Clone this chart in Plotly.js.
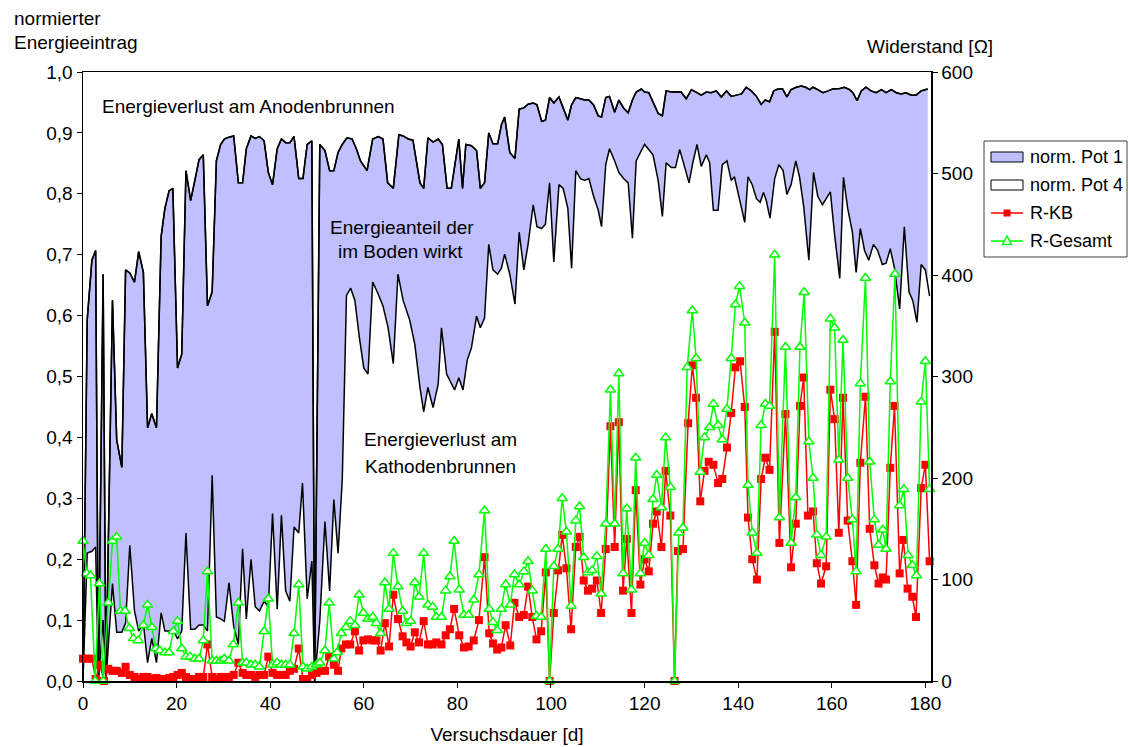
<!DOCTYPE html>
<html>
<head>
<meta charset="utf-8">
<script src="https://cdn.plot.ly/plotly-3.0.1.min.js"></script>
<style>html,body{margin:0;padding:0;background:#fff;}#chart{width:1128px;height:747px;}</style>
</head>
<body>
<div id="chart"></div>
<script>
// ---- Data ----
const pot1Days = [0,0.9,1.9,2.7,3.3,4.3,4.9,6.3,7.2,8.3,9.1,10.0,11.0,11.9,12.9,13.8,14.7,15.7,16.7,17.5,18.4,19.2,20.2,21.1,22.0,23.0,23.9,24.8,25.7,26.6,27.6,28.5,29.4,30.2,31.2,32.2,33.2,34.1,34.9,35.9,36.8,37.7,38.7,39.6,40.5,41.5,42.4,43.3,44.2,45.1,46.1,47.0,47.9,48.9,49.5,50.6,51.7,52.7,53.6,54.5,55.4,56.4,57.5,58.4,59.3,60.7,61.9,63.1,64.1,65.1,66.3,67.5,68.4,69.5,70.5,72.0,72.8,73.7,74.8,75.9,76.8,77.8,78.7,79.5,80.3,81.1,81.8,83.0,84.1,84.9,85.8,86.7,87.6,88.6,89.4,90.1,91.2,92.3,93.2,94.2,95.1,96.2,97.0,98.0,98.8,99.7,100.6,101.7,102.7,103.6,104.4,105.3,106.3,107.2,108.1,109.1,110.1,110.8,111.7,112.5,113.6,114.5,115.5,116.5,117.4,118.2,119.3,120.0,120.9,121.9,122.9,123.8,124.6,125.7,126.8,127.8,128.9,130.0,131.0,132.1,133.2,134.2,135.3,136.4,137.5,138.5,139.6,140.7,141.7,142.8,143.9,144.9,145.8,146.7,147.6,148.5,149.5,150.4,151.3,152.4,153.5,154.4,155.3,156.0,157.0,158.1,159.2,160.2,161.7,162.7,163.8,164.5,165.4,166.3,167.3,168.4,169.5,170.6,171.6,172.7,173.8,174.8,175.9,177.0,178.0,179.1,180.5];
const pot1Vals = [0,0.593,0.691,0.707,0,0.668,0,0.625,0.396,0.351,0.675,0.670,0.655,0.705,0.671,0.416,0.439,0.416,0.730,0.776,0.805,0.809,0.514,0.537,0.838,0.789,0.822,0.856,0.864,0.616,0.639,0.854,0.881,0.890,0.893,0.895,0.818,0.818,0.874,0.895,0.891,0.894,0.887,0.835,0.815,0.874,0.890,0.884,0.884,0.894,0.825,0.825,0.881,0.887,0,0.881,0.871,0.838,0.838,0.868,0.881,0.892,0.890,0.874,0.854,0.838,0.890,0.894,0.890,0.818,0.809,0.897,0.895,0.890,0.888,0.818,0.809,0.892,0.885,0.890,0.881,0.809,0.809,0.850,0.890,0.809,0.881,0.879,0.871,0.809,0.818,0.900,0.882,0.882,0.913,0.926,0.868,0.858,0.939,0.941,0.947,0.949,0.946,0.919,0.921,0.958,0.949,0.959,0.939,0.921,0.946,0.958,0.956,0.954,0.954,0.946,0.928,0.926,0.958,0.960,0.934,0.954,0.941,0.933,0.954,0.967,0.972,0.967,0.966,0.949,0.932,0.928,0.969,0.967,0.967,0.967,0.956,0.971,0.967,0.962,0.967,0.966,0.969,0.959,0.969,0.960,0.962,0.964,0.975,0.969,0.960,0.947,0.954,0.951,0.969,0.972,0.972,0.959,0.971,0.975,0.977,0.975,0.971,0.975,0.971,0.966,0.969,0.972,0.973,0.975,0.971,0.966,0.953,0.969,0.975,0.969,0.966,0.971,0.966,0.971,0.966,0.964,0.966,0.962,0.962,0.969,0.972];

const pot4Days = [0,0.9,1.9,2.7,3.3,4.3,4.9,6.3,7.2,8.3,9.1,10.0,11.0,11.9,12.9,13.8,14.7,15.7,16.7,17.5,18.4,19.2,20.2,21.1,22.0,23.0,23.9,24.8,25.7,26.6,27.6,28.5,29.4,30.2,31.2,32.2,33.2,34.1,34.9,35.9,36.8,37.7,38.7,39.6,40.5,41.5,42.4,43.3,44.2,45.1,46.1,46.9,47.9,48.9,49.5,50.6,51.7,52.7,53.6,54.5,55.4,56.3,57.2,58.1,59.0,60.0,60.9,61.9,63.1,64.1,65.2,66.3,67.3,68.4,69.8,70.9,72.0,72.8,73.7,74.8,75.9,76.6,77.7,78.7,79.4,80.3,81.2,82.1,83.0,84.1,84.9,85.8,86.7,87.6,88.6,89.4,90.1,91.2,92.3,93.2,94.2,95.1,96.2,97.0,98.0,98.8,99.7,100.6,101.7,102.6,103.6,104.4,105.3,106.3,107.2,108.1,109.1,110.1,110.8,111.7,112.5,113.6,114.5,115.5,116.5,117.4,118.2,119.3,120.0,121.8,122.9,123.8,124.6,125.7,126.6,127.5,128.6,129.5,130.3,131.2,132.1,133.2,133.9,134.7,135.7,136.6,137.6,138.5,139.2,140.2,141.4,142.1,143.0,143.9,144.7,145.4,146.0,146.8,147.8,148.7,149.6,150.4,151.3,152.3,153.1,154.0,155.1,156.1,157.0,158.0,158.8,159.7,160.6,161.7,162.5,163.4,164.4,165.2,166.1,167.0,167.9,168.9,169.8,170.8,171.6,172.5,173.4,174.5,175.5,176.5,177.3,178.2,179.1,180.0,180.9];
const pot4Vals = [0,0.210,0.213,0.220,0,0.100,0,0.160,0.080,0.080,0.095,0.223,0.115,0.082,0.095,0.030,0.070,0.030,0.112,0.082,0.082,0.085,0.069,0.082,0.243,0.085,0.085,0.092,0.092,0.082,0.338,0.105,0.102,0.098,0.161,0.090,0.060,0.217,0.102,0.200,0.122,0.115,0.131,0.122,0.275,0.118,0.272,0.148,0.131,0.253,0.243,0.325,0.135,0.197,0,0.099,0.262,0.148,0.298,0.210,0.331,0.633,0.645,0.625,0.567,0.514,0.504,0.655,0.635,0.616,0.580,0.521,0.668,0.625,0.593,0.553,0.482,0.442,0.482,0.449,0.488,0.580,0.504,0.488,0.478,0.498,0.478,0.527,0.547,0.599,0.580,0.596,0.717,0.675,0.668,0.678,0.701,0.668,0.619,0.737,0.675,0.717,0.782,0.746,0.743,0.750,0.818,0.688,0.815,0.809,0.776,0.678,0.838,0.825,0.822,0.825,0.796,0.773,0.746,0.848,0.874,0.854,0.835,0.825,0.818,0.727,0.854,0.871,0.881,0.864,0.822,0.763,0.851,0.843,0.843,0.873,0.845,0.818,0.851,0.881,0.845,0.864,0.851,0.773,0.773,0.848,0.854,0.822,0.828,0.796,0.753,0.828,0.815,0.792,0.786,0.802,0.789,0.760,0.825,0.848,0.838,0.799,0.815,0.854,0.828,0.779,0.691,0.835,0.796,0.782,0.792,0.803,0.733,0.661,0.827,0.776,0.737,0.671,0.743,0.707,0.691,0.717,0.707,0.684,0.686,0.710,0.678,0.611,0.746,0.639,0.625,0.589,0.684,0.675,0.632];

const rkbDays = [0,0.9,1.9,2.7,3.6,4.5,5.4,6.3,7.2,8.3,9.1,10.0,11.0,11.9,12.9,13.8,14.7,15.7,16.7,17.5,18.4,19.3,20.2,21.1,22.0,23.0,23.9,24.8,25.7,26.6,27.6,28.5,29.4,30.3,31.2,32.2,33.2,34.1,34.9,35.9,36.8,37.7,38.7,39.6,40.5,41.5,42.4,43.3,44.2,45.1,46.1,47.0,47.9,48.9,49.9,50.6,51.7,52.6,53.6,54.5,55.2,56.2,57.1,58.1,59.0,59.9,60.9,61.9,62.7,63.6,64.5,65.4,66.3,67.3,68.3,69.1,70.0,70.9,71.8,72.8,73.7,74.7,75.5,76.6,77.5,78.4,79.3,80.4,81.4,82.4,83.5,84.6,85.8,86.8,87.6,88.5,89.4,90.3,91.3,92.2,93.2,94.2,95.1,96.0,96.9,97.9,98.9,99.7,100.6,101.5,102.4,103.3,104.3,105.3,106.1,107.0,107.9,108.8,109.8,110.7,111.7,112.7,113.6,114.5,115.4,116.2,117.2,118.1,119.1,120.0,120.9,121.8,122.6,123.6,124.5,125.5,126.4,127.1,128.2,129.3,130.2,131.0,131.9,132.8,133.7,134.7,135.7,136.6,137.6,138.5,139.4,140.4,141.4,142.1,143.0,144.0,144.9,145.8,146.7,147.8,148.8,150.1,151.3,152.3,153.2,154.0,154.9,156.0,156.8,157.7,158.8,159.7,160.6,161.5,162.4,163.4,164.4,165.2,166.1,167.2,168.1,169.1,170.0,170.9,171.6,172.5,173.4,174.5,175.3,176.2,177.2,178.0,179.1,180.0,180.9];
const rkbVals = [22,22,22,2,16,0,12,10,10,8,14,6,4,2,4,4,2,3,2,2,3,4,6,8,4,2,2,4,4,36,4,2,4,4,4,6,18,8,6,6,4,6,6,24,8,6,6,6,10,12,32,2,2,6,8,10,10,24,16,10,32,36,36,49,30,40,41,40,40,30,57,34,85,61,44,38,34,48,38,59,36,36,38,36,45,51,71,45,33,34,40,60,122,47,37,31,33,55,35,77,63,65,93,63,41,49,107,0,67,109,144,111,51,132,142,99,89,91,99,67,130,251,132,255,89,140,67,188,95,120,108,155,167,132,207,163,0,128,130,254,311,279,177,207,216,213,195,199,230,264,309,315,270,161,120,100,199,220,208,344,136,263,112,155,271,299,163,167,116,96,113,287,258,146,279,158,118,75,215,280,150,114,96,102,100,210,271,106,139,91,83,63,190,213,118];

const rgesDays = [0,0.8,1.6,2.6,3.5,4.3,5.4,6.3,7.2,8.0,9.0,9.9,10.8,11.8,12.9,13.8,14.7,15.6,16.4,17.5,18.4,19.3,20.2,21.1,22.0,22.9,23.9,24.8,25.7,26.6,27.6,28.5,29.4,30.2,31.2,32.1,33.2,34.1,34.9,35.9,36.8,37.7,38.7,39.6,40.5,41.5,42.4,43.3,44.2,45.1,46.1,47.0,47.9,48.9,49.9,50.6,51.7,52.6,53.6,54.3,55.2,56.2,57.1,58.1,59.0,59.9,60.9,61.9,62.7,63.6,64.5,65.4,66.3,67.3,68.3,69.1,70.0,70.9,71.8,72.8,73.7,74.7,75.5,76.6,77.5,78.4,79.3,80.4,81.4,82.4,83.5,84.6,85.8,86.8,87.6,88.5,89.4,90.3,91.3,92.2,93.2,94.2,95.1,96.0,96.9,97.9,98.9,99.7,100.6,101.5,102.4,103.3,104.3,105.3,106.1,107.0,107.9,108.8,109.8,110.7,111.7,112.7,113.6,114.5,115.4,116.2,117.2,118.1,119.1,120.0,120.9,121.8,122.6,123.6,124.5,125.5,126.4,127.3,128.2,129.1,130.2,131.0,131.9,132.8,133.9,134.7,135.7,136.6,137.6,138.5,139.4,140.3,141.4,142.1,143.0,144.0,144.9,145.8,146.7,147.8,148.8,150.1,151.3,152.3,153.2,154.1,155.1,156.0,156.8,157.7,158.8,159.7,160.6,161.5,162.4,163.4,164.4,165.2,166.1,167.2,168.1,169.1,170.0,170.9,171.6,172.5,173.5,174.5,175.4,176.3,177.2,178.1,179.1,180.0,180.9];
const rgesVals = [138,106,104,0,96,0,77,138,142,69,69,52,42,40,55,75,53,32,30,28,28,49,59,32,24,24,22,22,40,108,20,20,20,22,20,36,77,18,18,16,16,14,49,81,16,18,16,16,16,47,95,14,12,14,16,18,30,77,22,28,47,53,59,55,85,67,61,63,57,47,97,71,126,93,69,57,59,97,83,126,75,73,63,63,89,103,138,90,65,65,80,105,168,71,58,50,71,95,75,105,95,108,118,89,64,63,130,0,113,130,180,147,74,158,172,122,107,109,123,86,155,287,155,303,106,170,90,220,106,136,124,179,203,171,240,191,0,146,151,309,365,318,206,240,250,273,252,238,268,318,371,389,353,193,146,126,252,273,271,420,161,329,136,181,329,383,236,200,144,124,142,357,348,218,336,200,159,108,293,397,216,159,134,149,130,295,401,173,189,124,114,104,275,315,189];

const xTitle = 'Versuchsdauer [d]';
const seriesNames = ['norm. Pot 1', 'norm. Pot 4', 'R-KB', 'R-Gesamt'];

// ---- Styles ----
const FONT = 'Liberation Sans, Arial, Helvetica, sans-serif';
const FS = 19;
const BLUE = '#C0C0FF', RED = '#FF0000', GREEN = '#00FF00';

const traces = [
  {x: pot1Days, y: pot1Vals, name: seriesNames[0], type: 'scatter', mode: 'lines',
   fill: 'tozeroy', fillcolor: BLUE, line: {color: '#000000', width: 1.5}, yaxis: 'y'},
  {x: pot4Days, y: pot4Vals, name: seriesNames[1], type: 'scatter', mode: 'lines',
   fill: 'tozeroy', fillcolor: '#FFFFFF', line: {color: '#000000', width: 1.5}, yaxis: 'y'},
  {x: pot1Days, y: pot1Vals, name: seriesNames[0], type: 'scatter', mode: 'lines',
   line: {color: '#000000', width: 1.5}, yaxis: 'y'},
  {x: rkbDays, y: rkbVals, name: seriesNames[2], type: 'scatter', mode: 'lines+markers', yaxis: 'y2',
   cliponaxis: false, line: {color: RED, width: 1.5},
   marker: {symbol: 'square', size: 8, color: RED, line: {width: 0}}},
  {x: rgesDays, y: rgesVals, name: seriesNames[3], type: 'scatter', mode: 'lines+markers', yaxis: 'y2',
   cliponaxis: false, line: {color: GREEN, width: 1.5},
   marker: {symbol: 'triangle-up', size: 9, color: '#FFFFFF', line: {color: GREEN, width: 1.5}}}
];

function px(x){ return (x - 83) / 848; }
function py(y){ return (681 - y) / 609; }

const ann = (text, x, y, xanchor, size) => ({text: text, xref: 'paper', yref: 'paper', x: px(x), y: py(y),
  xanchor: xanchor || 'center', yanchor: 'middle', showarrow: false,
  font: {family: FONT, size: size || FS, color: '#000'}});

// ---- Hand-built legend (Excel style) ----
const legShapes = [
  {type: 'rect', xref: 'paper', yref: 'paper', x0: px(984), x1: px(1127), y0: py(141), y1: py(257),
   line: {color: '#404040', width: 1}, fillcolor: '#FFFFFF'},
  {type: 'rect', xref: 'paper', yref: 'paper', x0: px(991), x1: px(1023), y0: py(152), y1: py(162),
   line: {color: '#000', width: 1}, fillcolor: BLUE},
  {type: 'rect', xref: 'paper', yref: 'paper', x0: px(991), x1: px(1023), y0: py(180), y1: py(190),
   line: {color: '#000', width: 1}, fillcolor: '#FFFFFF'},
  {type: 'line', xref: 'paper', yref: 'paper', x0: px(991), x1: px(1023), y0: py(213), y1: py(213),
   line: {color: RED, width: 1.5}},
  {type: 'rect', xref: 'paper', yref: 'paper', x0: px(1003.5), x1: px(1010.5), y0: py(209.5), y1: py(216.5),
   line: {color: RED, width: 0}, fillcolor: RED},
  {type: 'line', xref: 'paper', yref: 'paper', x0: px(991), x1: px(1023), y0: py(241), y1: py(241),
   line: {color: GREEN, width: 1.5}},
  {type: 'path', xref: 'paper', yref: 'paper',
   path: 'M' + px(1007) + ',' + py(236) + ' L' + px(1011.5) + ',' + py(244.5) + ' L' + px(1002.5) + ',' + py(244.5) + ' Z',
   line: {color: GREEN, width: 1.5}, fillcolor: '#FFFFFF'}
];

const layout = {
  width: 1128, height: 747,
  margin: {l: 83, r: 197, t: 72, b: 66},
  paper_bgcolor: '#FFFFFF', plot_bgcolor: '#FFFFFF',
  separators: ', ',
  font: {family: FONT, size: FS, color: '#000000'},
  showlegend: false,
  xaxis: {range: [0, 181.2], tick0: 0, dtick: 20, ticks: 'outside', ticklen: 5, tickcolor: '#000',
          tickfont: {family: FONT, size: FS},
          showline: true, linecolor: '#000', linewidth: 1.5, mirror: true, showgrid: false, zeroline: false,
          title: {text: xTitle, standoff: 14, font: {family: FONT, size: FS}}},
  yaxis: {range: [0, 1], tick0: 0, dtick: 0.1, tickformat: '.1f', ticks: 'outside', ticklen: 5, tickcolor: '#000',
          tickfont: {family: FONT, size: FS},
          showline: true, linecolor: '#000', linewidth: 1.5, showgrid: false, zeroline: false},
  yaxis2: {range: [0, 600], tick0: 0, dtick: 100, overlaying: 'y', side: 'right', ticks: 'outside', ticklen: 5,
           tickfont: {family: FONT, size: FS},
           tickcolor: '#000', showline: true, linecolor: '#000', linewidth: 1.5, showgrid: false, zeroline: false},
  shapes: legShapes,
  annotations: [
    ann('normierter', 12, 18, 'left'),
    ann('Energieeintrag', 12, 43, 'left'),
    ann('Widerstand [Ω]', 995, 47, 'right'),
    ann('Energieverlust am Anodenbrunnen', 100, 106, 'left'),
    ann('Energieanteil der', 402, 227),
    ann('im Boden wirkt', 400, 252),
    ann('Energieverlust am', 440, 440),
    ann('Kathodenbrunnen', 440, 466),
    ann(seriesNames[0], 1028, 157, 'left', 18),
    ann(seriesNames[1], 1028, 185, 'left', 18),
    ann(seriesNames[2], 1028, 213, 'left', 18),
    ann(seriesNames[3], 1028, 241, 'left', 18)
  ]
};

Plotly.newPlot('chart', traces, layout, {staticPlot: true, displayModeBar: false});
</script>
</body>
</html>
